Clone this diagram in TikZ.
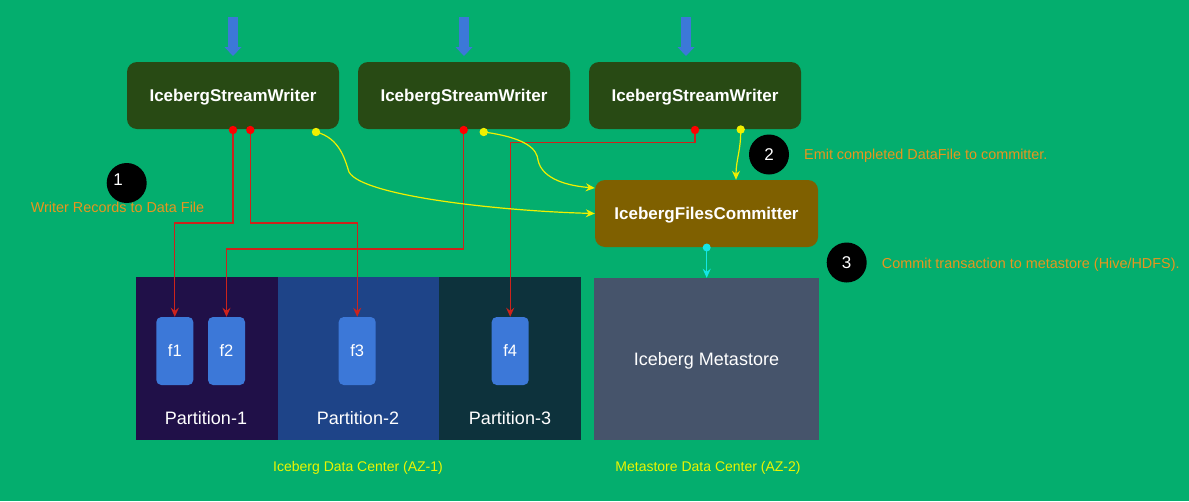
\documentclass[tikz,border=0pt]{standalone}
\usepackage{fontspec}
\setmainfont{Liberation Sans}
\usetikzlibrary{arrows.meta}
\definecolor{bggreen}{RGB}{4,174,110}
\definecolor{writerfill}{RGB}{40,74,20}
\definecolor{commitfill}{RGB}{127,96,0}
\definecolor{fileblue}{RGB}{60,120,216}
\definecolor{pone}{RGB}{32,16,72}
\definecolor{ptwo}{RGB}{30,68,136}
\definecolor{pthree}{RGB}{13,50,60}
\definecolor{metafill}{RGB}{70,84,107}
\definecolor{wirered}{RGB}{205,35,28}
\definecolor{noteorange}{RGB}{232,150,30}
\definecolor{dcyellow}{RGB}{235,245,0}
\definecolor{flowyellow}{RGB}{240,240,0}
\definecolor{cyanline}{RGB}{20,230,230}
\tikzset{
  writer/.style={rectangle, rounded corners=10pt, fill=writerfill, text=white,
    minimum width=212pt, minimum height=67pt, inner sep=0pt, text depth=0pt,
    font=\fontsize{17}{20}\selectfont\bfseries},
  committer/.style={rectangle, rounded corners=10pt, fill=commitfill, text=white,
    minimum width=223pt, minimum height=67pt, inner sep=0pt, text depth=0pt,
    font=\fontsize{17}{20}\selectfont\bfseries},
  filebox/.style={rectangle, rounded corners=5pt, fill=fileblue, text=white,
    minimum width=37pt, minimum height=68pt, inner sep=0pt, text depth=0pt,
    font=\fontsize{16.5}{19}\selectfont},
  partbox/.style={rectangle, minimum height=163pt, inner sep=0pt},
  partlabel/.style={text=white, font=\fontsize{18}{21}\selectfont, inner sep=0pt, text depth=0pt},
  metabox/.style={rectangle, fill=metafill, text=white, minimum width=225pt,
    minimum height=162pt, inner sep=0pt, text depth=0pt, font=\fontsize{18}{21}\selectfont},
  stepcircle/.style={circle, fill=black, minimum size=40pt, inner sep=0pt},
  stepnum/.style={text=white, font=\fontsize{17}{20}\selectfont, inner sep=0pt},
  note/.style={text=noteorange, font=\fontsize{14.4}{17}\selectfont, inner sep=0pt},
  dclabel/.style={text=dcyellow, font=\fontsize{14}{17}\selectfont, inner sep=0pt, text depth=0pt},
  wire/.style={draw=wirered, line width=1.3pt, -{Stealth[length=9pt,width=8pt,inset=3pt]}},
  flow/.style={draw=flowyellow, line width=1.2pt, -{Stealth[length=9pt,width=8pt,inset=3pt]}},
  metaflow/.style={draw=cyanline, line width=1.2pt, -{Stealth[length=9pt,width=8pt,inset=3pt]}},
  inarrow/.style={fill=fileblue},
}
\begin{document}
\begin{tikzpicture}[x=1pt,y=-1pt]
\fill[bggreen] (0,0) rectangle (1189,501);
\useasboundingbox (0,0) rectangle (1189,501);

% input arrows
\foreach \ax in {233,464,686}{
  \fill[inarrow] (\ax-4.8,17) -- (\ax+4.8,17) -- (\ax+4.8,47) -- (\ax+8.5,47)
    -- (\ax,56) -- (\ax-8.5,47) -- (\ax-4.8,47) -- cycle;
}

% writers
\node[writer] (w1) at (233,95.5) {IcebergStreamWriter};
\node[writer] (w2) at (464,95.5) {IcebergStreamWriter};
\node[writer] (w3) at (695,95.5) {IcebergStreamWriter};

% committer
\node[committer] (fc) at (706.5,213.5) {IcebergFilesCommitter};

% data center partitions
\node[partbox, fill=pone, minimum width=142pt] (p1) at (207,358.5) {};
\node[partbox, fill=ptwo, minimum width=161pt] (p2) at (358.5,358.5) {};
\node[partbox, fill=pthree, minimum width=142pt] (p3) at (510,358.5) {};
\node[partlabel] (p1l) at (206,418) {Partition-1};
\node[partlabel] (p2l) at (358,418) {Partition-2};
\node[partlabel] (p3l) at (510,418) {Partition-3};

% files
\node[filebox] (f1) at (174.8,351) {f1};
\node[filebox] (f2) at (226.5,351) {f2};
\node[filebox] (f3) at (357.2,351) {f3};
\node[filebox] (f4) at (510.2,351) {f4};

% metastore
\node[metabox] (ms) at (706.5,359) {Iceberg Metastore};

% datacenter labels
\node[dclabel] (dc1) at (358,466) {Iceberg Data Center (AZ-1)};
\node[dclabel] (dc2) at (708,466) {Metastore Data Center (AZ-2)};

% connection points
\coordinate (w1r1) at (233,130);
\coordinate (w1r2) at (250.3,130);
\coordinate (w2r1) at (463.7,130);
\coordinate (w3r1) at (695,130);
\coordinate (w1y) at (316,132);
\coordinate (w2y) at (483.7,132);
\coordinate (w3y) at (740.7,129.5);
\coordinate (fcc) at (706.7,247.5);

% red wires
\draw[wire] (w1r1) |- (174.8,223) -- (f1.north);
\draw[wire] (w1r2) |- (357.2,223) -- (f3.north);
\draw[wire] (w2r1) |- (226.5,249) -- (f2.north);
\draw[wire] (w3r1) |- (510.2,142.7) -- (f4.north);

% yellow flows
\draw[flow] (w1y) .. controls (340,138) and (345,160) .. (349,172)
  .. controls (362,196) and (500,211) .. (fc.west);
\draw[flow] (w2y) .. controls (528,138) and (537,150) .. (538,160)
  .. controls (542,180) and (570,186) .. (fc.west |- 0,188);
\draw[flow] (w3y) .. controls (741,150) and (736,160) .. (fc.north -| 736,0);

% cyan flow
\draw[metaflow] (fcc) -- (ms.north -| fcc);

% dots
\foreach \c in {w1r1,w1r2,w2r1,w3r1}{\fill[red] (\c) circle (4.2pt);}
\foreach \c in {w1y,w2y,w3y}{\fill[flowyellow] (\c) circle (4.2pt);}
\fill[cyanline] (fcc) circle (4pt);

% step circles
\node[stepcircle] (s1) at (126.7,183) {};
\node[stepnum] (s1n) at (118,180) {1};
\node[note] (n1) at (117.5,207) {Writer Records to Data File};
\node[stepcircle] (s2) at (769,154.5) {};
\node[stepnum] (s2n) at (s2) {2};
\node[note, anchor=west] (n2) at (804,155.5) {Emit completed DataFile to committer.};
\node[stepcircle] (s3) at (846.7,262.5) {};
\node[stepnum] (s3n) at (s3) {3};
\node[note, anchor=west] (n3) at (881.7,265) {Commit transaction to metastore (Hive/HDFS).};
\end{tikzpicture}
\end{document}
